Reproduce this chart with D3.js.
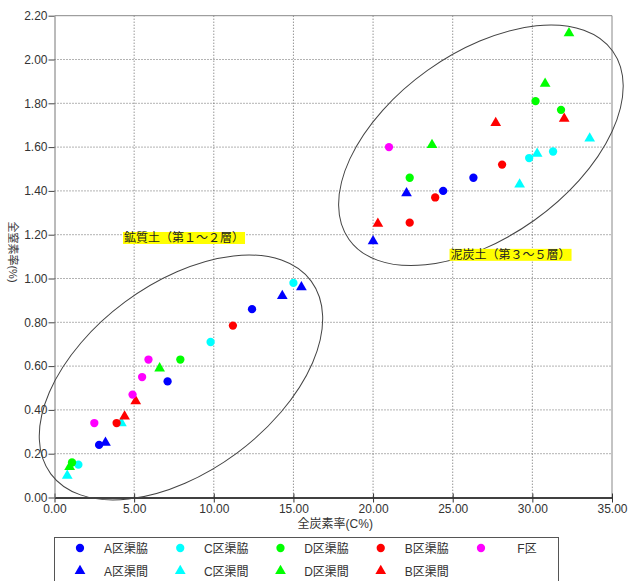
<!DOCTYPE html>
<html>
<head>
<meta charset="utf-8">
<script src="https://cdn.jsdelivr.net/npm/d3@7"></script>
<style>
  body { margin: 0; background: #fff; }
  text { font-family: "Liberation Sans", Arial, "Noto Sans CJK JP", sans-serif; }
</style>
</head>
<body>
<div id="chart"></div>
<script>
// series data: [全炭素率 C%, 全窒素率 %]
const aWaki  = [[2.8, 0.24], [7.1, 0.53], [12.4, 0.86], [24.4, 1.40], [26.3, 1.46]];
const aMa    = [[3.2, 0.25], [14.3, 0.92], [15.5, 0.96], [20.0, 1.17], [22.1, 1.39]];
const cWaki  = [[1.5, 0.15], [9.8, 0.71], [15.0, 0.98], [29.8, 1.55], [31.3, 1.58]];
const cMa    = [[0.8, 0.10], [4.2, 0.34], [29.2, 1.43], [30.3, 1.57], [33.6, 1.64]];
const dWaki  = [[1.1, 0.16], [7.9, 0.63], [22.3, 1.46], [30.2, 1.81], [31.8, 1.77]];
const dMa    = [[0.95, 0.14], [6.6, 0.59], [23.7, 1.61], [30.8, 1.89], [32.3, 2.12]];
const bWaki  = [[3.9, 0.34], [11.2, 0.785], [22.3, 1.255], [23.9, 1.37], [28.1, 1.52]];
const bMa    = [[4.4, 0.37], [5.1, 0.44], [20.3, 1.25], [27.7, 1.71], [32.0, 1.73]];
const fKu    = [[2.5, 0.34], [4.9, 0.47], [5.5, 0.55], [5.9, 0.63], [21.0, 1.60]];

const xTicks = [0, 5, 10, 15, 20, 25, 30, 35];
const yTicks = [0, 0.2, 0.4, 0.6, 0.8, 1.0, 1.2, 1.4, 1.6, 1.8, 2.0, 2.2];

// legend order (row 1 then row 2)
const legendRow1 = ["A区渠脇", "C区渠脇", "D区渠脇", "B区渠脇", "F区"];
const legendRow2 = ["A区渠間", "C区渠間", "D区渠間", "B区渠間"];

// annotation groups: label, label anchor (data units), ellipse centre (data units)
const groupLabels = ["鉱質土（第１～２層）", "泥炭土（第３～５層）"];
const groupLabelPos = [[4.3, 1.185], [24.8, 1.108]];
const groupCentre = [[7.94, 0.548], [26.77, 1.608]];

const series = [
  { name: "A区渠脇", data: aWaki, color: "#0000ff", shape: "dot" },
  { name: "A区渠間", data: aMa,   color: "#0000ff", shape: "tri" },
  { name: "C区渠脇", data: cWaki, color: "#00ffff", shape: "dot" },
  { name: "C区渠間", data: cMa,   color: "#00ffff", shape: "tri" },
  { name: "D区渠脇", data: dWaki, color: "#00ff00", shape: "dot" },
  { name: "D区渠間", data: dMa,   color: "#00ff00", shape: "tri" },
  { name: "B区渠脇", data: bWaki, color: "#ff0000", shape: "dot" },
  { name: "B区渠間", data: bMa,   color: "#ff0000", shape: "tri" },
  { name: "F区",     data: fKu,   color: "#ff00ff", shape: "dot" }
];

const width = 628;
const height = 581;
const plot = { left: 54.5, right: 612, top: 15.7, bottom: 497.5 };

const svg = d3.select("#chart")
  .append("svg")
  .attr("width", width)
  .attr("height", height);

const x = d3.scaleLinear().domain([0, 35]).range([plot.left, plot.right]);
const y = d3.scaleLinear().domain([0, 2.2]).range([plot.bottom, plot.top]);

// dotted grid
svg.append("g")
  .selectAll("line")
  .data(yTicks.filter(d => d > 0 && d < 2.2))
  .join("line")
  .attr("x1", plot.left).attr("x2", plot.right)
  .attr("y1", d => y(d)).attr("y2", d => y(d))
  .attr("stroke", "#666")
  .attr("stroke-width", 1)
  .attr("stroke-dasharray", "1,2");

svg.append("g")
  .selectAll("line")
  .data(xTicks.filter(d => d > 0 && d < 35))
  .join("line")
  .attr("x1", d => x(d)).attr("x2", d => x(d))
  .attr("y1", plot.top).attr("y2", plot.bottom)
  .attr("stroke", "#666")
  .attr("stroke-width", 1)
  .attr("stroke-dasharray", "1,2");

// frame (top / right)
svg.append("path")
  .attr("d", `M${plot.left},${plot.top}H${plot.right}V${plot.bottom}`)
  .attr("fill", "none")
  .attr("stroke", "#888")
  .attr("stroke-width", 1);

// axes
const xAxis = d3.axisBottom(x).tickValues(xTicks).tickFormat(d3.format(".2f")).tickSize(5).tickSizeOuter(0);
const gx = svg.append("g")
  .attr("transform", `translate(0,${plot.bottom})`)
  .call(xAxis);
gx.select(".domain").attr("stroke", "#000").attr("stroke-width", 1.5);
gx.selectAll(".tick line").attr("stroke", "#333").attr("y1", -4);
gx.selectAll(".tick text").attr("font-size", 12).attr("fill", "#333").attr("dy", "0.6em")
  .style("font-family", "'Liberation Sans', Arial, sans-serif");

const yAxis = d3.axisLeft(y).tickValues(yTicks).tickFormat(d3.format(".2f")).tickSize(6).tickSizeOuter(0);
const gy = svg.append("g")
  .attr("transform", `translate(${plot.left},0)`)
  .call(yAxis);
gy.select(".domain").attr("stroke", "#777");
gy.selectAll(".tick line").attr("stroke", "#444");
gy.selectAll(".tick text").attr("font-size", 12).attr("fill", "#333").attr("x", -7)
  .style("font-family", "'Liberation Sans', Arial, sans-serif");

// axis titles
svg.append("text")
  .attr("x", (plot.left + plot.right) / 2 + 2)
  .attr("y", 528)
  .attr("text-anchor", "middle")
  .attr("font-size", 12)
  .attr("fill", "#333")
  .text("全炭素率(C%)");

svg.append("text")
  .attr("transform", `translate(9,252) rotate(90)`)
  .attr("text-anchor", "middle")
  .attr("font-size", 11)
  .attr("fill", "#333")
  .text("全窒素率(%)");

// ellipses around the two groups
const ellipseShape = [
  { rx: 162, ry: 94, angle: -36.5 },
  { rx: 162, ry: 92, angle: -35.5 }
];
svg.append("g")
  .selectAll("ellipse")
  .data(groupCentre)
  .join("ellipse")
  .attr("transform", (d, i) => `translate(${x(d[0])},${y(d[1])}) rotate(${ellipseShape[i].angle})`)
  .attr("rx", (d, i) => ellipseShape[i].rx)
  .attr("ry", (d, i) => ellipseShape[i].ry)
  .attr("fill", "none")
  .attr("stroke", "#444")
  .attr("stroke-width", 1);

// group labels on yellow
groupLabels.forEach((label, i) => {
  const g = svg.append("g")
    .attr("transform", `translate(${x(groupLabelPos[i][0])},${y(groupLabelPos[i][1])})`);
  const t = g.append("text")
    .attr("x", 1)
    .attr("y", 4.5)
    .attr("font-size", 12)
    .attr("fill", "#222")
    .style("font-family", "'Noto Sans CJK JP', sans-serif")
    .text(label);
  const bb = t.node().getBBox();
  g.insert("rect", "text")
    .attr("x", 0)
    .attr("y", -6)
    .attr("width", bb.width + 2)
    .attr("height", 12)
    .attr("fill", "#ffff00");
});

// markers
const tri = d3.symbol().type(d3.symbolTriangle).size(50);
const dot = d3.symbol().type(d3.symbolCircle).size(54);

series.forEach(s => {
  svg.append("g")
    .selectAll("path")
    .data(s.data)
    .join("path")
    .attr("transform", d => `translate(${x(d[0])},${y(d[1])})`)
    .attr("d", s.shape === "tri" ? tri : dot)
    .attr("fill", s.color);
});

// legend
const legend = svg.append("g");
legend.append("rect")
  .attr("x", 54.5)
  .attr("y", 537.5)
  .attr("width", 504)
  .attr("height", 60)
  .attr("fill", "#fff")
  .attr("stroke", "#555");

const colX = d3.scaleLinear().domain([0, 4]).range([80, 481]);
const rowY = [548, 571];
[legendRow1, legendRow2].forEach((row, r) => {
  row.forEach((name, i) => {
    const s = series.find(d => d.name === name);
    legend.append("path")
      .attr("transform", `translate(${colX(i)},${rowY[r]})`)
      .attr("d", s.shape === "tri" ? tri : dot)
      .attr("fill", s.color);
    legend.append("text")
      .attr("x", colX(i) + 46)
      .attr("y", rowY[r] + 4.5)
      .attr("text-anchor", "middle")
      .attr("font-size", 12)
      .attr("fill", "#333")
      .text(name);
  });
});
</script>
</body>
</html>
